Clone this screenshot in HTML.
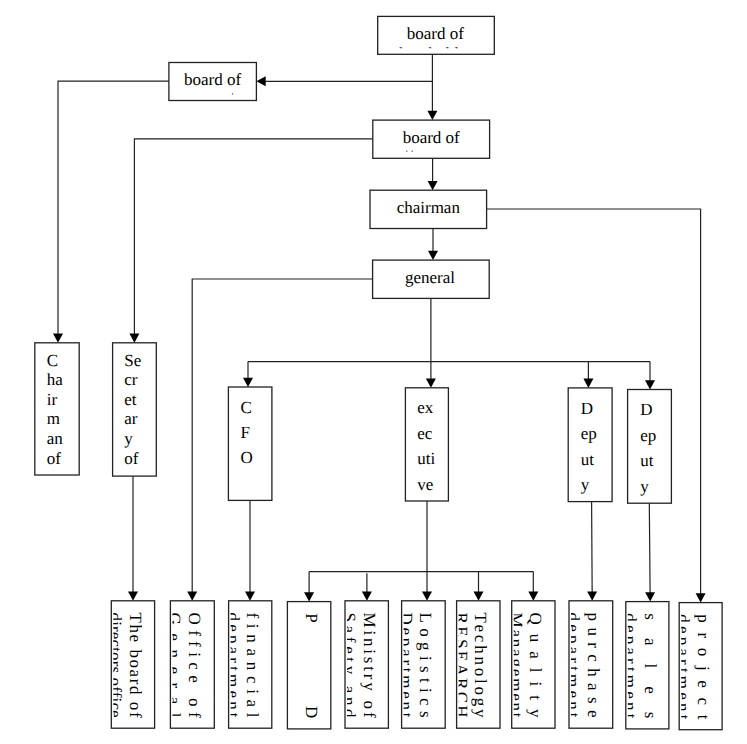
<!DOCTYPE html>
<html><head><meta charset="utf-8"><style>
html,body{margin:0;padding:0;background:#fff;width:747px;height:744px;overflow:hidden}
svg{display:block}
text{font-family:"Liberation Serif",serif;font-size:17px;fill:#000;text-rendering:geometricPrecision}
</style></head><body>
<svg width="747" height="744" viewBox="0 0 747 744">
<defs><clipPath id="cA"><rect x="377.70" y="16.40" width="116.60" height="31.90"/></clipPath>
<clipPath id="cb1"><rect x="113.30" y="600.80" width="41.30" height="127.40"/></clipPath>
<clipPath id="cb2"><rect x="172.40" y="600.80" width="41.90" height="127.40"/></clipPath>
<clipPath id="cb3"><rect x="230.60" y="600.80" width="41.20" height="127.40"/></clipPath>
<clipPath id="cb5"><rect x="347.00" y="600.80" width="41.40" height="127.40"/></clipPath>
<clipPath id="cb6"><rect x="403.60" y="600.80" width="41.60" height="127.40"/></clipPath>
<clipPath id="cb7"><rect x="458.60" y="600.80" width="41.40" height="127.40"/></clipPath>
<clipPath id="cb8"><rect x="513.70" y="600.80" width="41.30" height="127.40"/></clipPath>
<clipPath id="cb9"><rect x="571.00" y="600.80" width="41.70" height="127.40"/></clipPath>
<clipPath id="cb10"><rect x="627.80" y="601.60" width="41.10" height="127.30"/></clipPath>
<clipPath id="cb11"><rect x="681.20" y="602.60" width="40.90" height="127.10"/></clipPath></defs>
<polyline points="248.00,361.60 650.00,361.60" fill="none" stroke="#222" stroke-width="1.2"/>
<polyline points="309.10,571.60 533.30,571.60" fill="none" stroke="#222" stroke-width="1.2"/>
<polyline points="432.40,54.30 432.40,114.52" fill="none" stroke="#222" stroke-width="1.2"/>
<polygon points="432.40,120.10 427.40,110.80 437.40,110.80" fill="#000"/>
<polyline points="432.40,81.30 261.98,81.30" fill="none" stroke="#222" stroke-width="1.2"/>
<polygon points="256.40,81.30 265.70,76.30 265.70,86.30" fill="#000"/>
<polyline points="168.90,81.10 58.00,81.10 58.00,337.22" fill="none" stroke="#222" stroke-width="1.2"/>
<polygon points="58.00,342.80 53.00,333.50 63.00,333.50" fill="#000"/>
<polyline points="372.80,138.80 134.40,138.80 134.40,337.22" fill="none" stroke="#222" stroke-width="1.2"/>
<polygon points="134.40,342.80 129.40,333.50 139.40,333.50" fill="#000"/>
<polyline points="432.60,158.30 432.60,184.62" fill="none" stroke="#222" stroke-width="1.2"/>
<polygon points="432.60,190.20 427.60,180.90 437.60,180.90" fill="#000"/>
<polyline points="486.60,209.00 700.60,209.00 700.60,597.02" fill="none" stroke="#222" stroke-width="1.2"/>
<polygon points="700.60,602.60 695.60,593.30 705.60,593.30" fill="#000"/>
<polyline points="433.00,228.50 433.00,254.52" fill="none" stroke="#222" stroke-width="1.2"/>
<polygon points="433.00,260.10 428.00,250.80 438.00,250.80" fill="#000"/>
<polyline points="372.60,279.00 192.20,279.00 192.20,595.22" fill="none" stroke="#222" stroke-width="1.2"/>
<polygon points="192.20,600.80 187.20,591.50 197.20,591.50" fill="#000"/>
<polyline points="430.90,298.40 430.90,382.22" fill="none" stroke="#222" stroke-width="1.2"/>
<polygon points="430.90,387.80 425.90,378.50 435.90,378.50" fill="#000"/>
<polyline points="248.00,361.60 248.00,381.42" fill="none" stroke="#222" stroke-width="1.2"/>
<polygon points="248.00,387.00 243.00,377.70 253.00,377.70" fill="#000"/>
<polyline points="588.40,361.60 588.40,382.32" fill="none" stroke="#222" stroke-width="1.2"/>
<polygon points="588.40,387.90 583.40,378.60 593.40,378.60" fill="#000"/>
<polyline points="650.00,361.60 650.00,383.92" fill="none" stroke="#222" stroke-width="1.2"/>
<polygon points="650.00,389.50 645.00,380.20 655.00,380.20" fill="#000"/>
<polyline points="133.00,476.10 133.00,595.22" fill="none" stroke="#222" stroke-width="1.2"/>
<polygon points="133.00,600.80 128.00,591.50 138.00,591.50" fill="#000"/>
<polyline points="250.00,500.40 250.00,595.22" fill="none" stroke="#222" stroke-width="1.2"/>
<polygon points="250.00,600.80 245.00,591.50 255.00,591.50" fill="#000"/>
<polyline points="427.00,501.00 427.00,595.22" fill="none" stroke="#222" stroke-width="1.2"/>
<polygon points="427.00,600.80 422.00,591.50 432.00,591.50" fill="#000"/>
<polyline points="309.10,571.60 309.10,596.02" fill="none" stroke="#222" stroke-width="1.2"/>
<polygon points="309.10,601.60 304.10,592.30 314.10,592.30" fill="#000"/>
<polyline points="366.90,573.30 366.90,595.22" fill="none" stroke="#222" stroke-width="1.2"/>
<polygon points="366.90,600.80 361.90,591.50 371.90,591.50" fill="#000"/>
<polyline points="478.50,571.60 478.50,595.22" fill="none" stroke="#222" stroke-width="1.2"/>
<polygon points="478.50,600.80 473.50,591.50 483.50,591.50" fill="#000"/>
<polyline points="533.30,571.60 533.30,595.22" fill="none" stroke="#222" stroke-width="1.2"/>
<polygon points="533.30,600.80 528.30,591.50 538.30,591.50" fill="#000"/>
<polyline points="591.60,501.60 592.17,595.22" fill="none" stroke="#222" stroke-width="1.2"/>
<polygon points="592.20,600.80 587.14,591.53 597.14,591.47" fill="#000"/>
<polyline points="649.30,503.20 650.15,596.02" fill="none" stroke="#222" stroke-width="1.2"/>
<polygon points="650.20,601.60 645.12,592.35 655.11,592.25" fill="#000"/>
<rect x="377.70" y="16.40" width="116.60" height="37.90" fill="#fff" stroke="#222" stroke-width="1.3"/>
<rect x="168.90" y="62.50" width="87.50" height="38.00" fill="#fff" stroke="#222" stroke-width="1.3"/>
<rect x="372.80" y="120.10" width="116.80" height="38.20" fill="#fff" stroke="#222" stroke-width="1.3"/>
<rect x="370.00" y="190.20" width="116.60" height="38.30" fill="#fff" stroke="#222" stroke-width="1.3"/>
<rect x="372.60" y="260.10" width="116.60" height="38.30" fill="#fff" stroke="#222" stroke-width="1.3"/>
<rect x="34.80" y="342.80" width="44.40" height="132.20" fill="#fff" stroke="#222" stroke-width="1.3"/>
<rect x="112.60" y="342.80" width="43.70" height="133.30" fill="#fff" stroke="#222" stroke-width="1.3"/>
<rect x="228.40" y="387.00" width="43.50" height="113.40" fill="#fff" stroke="#222" stroke-width="1.3"/>
<rect x="405.40" y="387.80" width="43.00" height="113.20" fill="#fff" stroke="#222" stroke-width="1.3"/>
<rect x="568.20" y="387.90" width="43.90" height="113.70" fill="#fff" stroke="#222" stroke-width="1.3"/>
<rect x="627.60" y="389.50" width="43.80" height="113.70" fill="#fff" stroke="#222" stroke-width="1.3"/>
<rect x="111.30" y="600.80" width="43.30" height="127.40" fill="#fff" stroke="#222" stroke-width="1.3"/>
<rect x="170.40" y="600.80" width="43.90" height="127.40" fill="#fff" stroke="#222" stroke-width="1.3"/>
<rect x="228.60" y="600.80" width="43.20" height="127.40" fill="#fff" stroke="#222" stroke-width="1.3"/>
<rect x="287.40" y="601.60" width="43.40" height="127.30" fill="#fff" stroke="#222" stroke-width="1.3"/>
<rect x="345.00" y="600.80" width="43.40" height="127.40" fill="#fff" stroke="#222" stroke-width="1.3"/>
<rect x="401.60" y="600.80" width="43.60" height="127.40" fill="#fff" stroke="#222" stroke-width="1.3"/>
<rect x="456.60" y="600.80" width="43.40" height="127.40" fill="#fff" stroke="#222" stroke-width="1.3"/>
<rect x="511.70" y="600.80" width="43.30" height="127.40" fill="#fff" stroke="#222" stroke-width="1.3"/>
<rect x="569.00" y="600.80" width="43.70" height="127.40" fill="#fff" stroke="#222" stroke-width="1.3"/>
<rect x="625.80" y="601.60" width="43.10" height="127.30" fill="#fff" stroke="#222" stroke-width="1.3"/>
<rect x="679.20" y="602.60" width="42.90" height="127.10" fill="#fff" stroke="#222" stroke-width="1.3"/>
<text x="435.30" y="38.90" text-anchor="middle">board of</text>
<text x="435.30" y="59.30" text-anchor="middle" clip-path="url(#cA)">shareholders</text>
<text x="212.65" y="85.00" text-anchor="middle">board of</text>
<rect x="231.9" y="93.3" width="1.2" height="1.2" fill="#444"/>
<text x="431.20" y="142.90" text-anchor="middle">board of</text>
<rect x="406.2" y="150.6" width="1.2" height="1.2" fill="#444"/>
<rect x="411.6" y="150.6" width="1.2" height="1.2" fill="#444"/>
<text x="428.30" y="212.70" text-anchor="middle">chairman</text>
<text x="429.90" y="282.70" text-anchor="middle">general</text>
<text x="46.70" y="365.60">C</text>
<text x="46.70" y="385.20">ha</text>
<text x="46.70" y="404.80">ir</text>
<text x="46.70" y="424.40">m</text>
<text x="46.70" y="444.10">an</text>
<text x="46.70" y="464.00">of</text>
<text x="124.30" y="365.60">Se</text>
<text x="124.30" y="385.20">cr</text>
<text x="124.30" y="404.80">et</text>
<text x="124.30" y="424.40">ar</text>
<text x="124.30" y="444.10">y</text>
<text x="124.30" y="464.00">of</text>
<text x="240.50" y="412.80">C</text>
<text x="240.50" y="437.90">F</text>
<text x="240.50" y="463.00">O</text>
<text x="417.30" y="413.30">ex</text>
<text x="417.30" y="438.70">ec</text>
<text x="417.30" y="464.10">uti</text>
<text x="417.30" y="489.50">ve</text>
<text x="580.80" y="413.90">D</text>
<text x="580.80" y="439.40">ep</text>
<text x="580.80" y="464.90">ut</text>
<text x="580.80" y="490.40">y</text>
<text x="640.20" y="415.30">D</text>
<text x="640.20" y="440.80">ep</text>
<text x="640.20" y="466.30">ut</text>
<text x="640.20" y="491.80">y</text>
<text transform="translate(130.00,612.50) rotate(90)" textLength="105.10" lengthAdjust="spacing">The board of</text>
<g clip-path="url(#cb1)"><text transform="translate(110.20,612.50) rotate(90)" textLength="105.10" lengthAdjust="spacing" style="font-size:17px">directors office</text></g>
<text transform="translate(189.10,612.50) rotate(90)" textLength="105.10" lengthAdjust="spacing">Office of</text>
<g clip-path="url(#cb2)"><text transform="translate(169.30,612.50) rotate(90)" textLength="105.10" lengthAdjust="spacing" style="font-size:17px">General</text></g>
<text transform="translate(247.30,612.50) rotate(90)" textLength="105.10" lengthAdjust="spacing">financial</text>
<g clip-path="url(#cb3)"><text transform="translate(227.50,612.50) rotate(90)" textLength="105.10" lengthAdjust="spacing" style="font-size:17px">department</text></g>
<text transform="translate(306.10,613.30) rotate(90)" textLength="105.10" lengthAdjust="spacing">P D</text>
<text transform="translate(363.70,612.50) rotate(90)" textLength="105.10" lengthAdjust="spacing">Ministry of</text>
<g clip-path="url(#cb5)"><text transform="translate(343.90,612.50) rotate(90)" textLength="105.10" lengthAdjust="spacing" style="font-size:17px">Safety and</text></g>
<text transform="translate(420.30,612.50) rotate(90)" textLength="105.10" lengthAdjust="spacing">Logistics</text>
<g clip-path="url(#cb6)"><text transform="translate(400.50,612.50) rotate(90)" textLength="105.10" lengthAdjust="spacing" style="font-size:17px">Department</text></g>
<text transform="translate(475.30,612.50) rotate(90)" textLength="105.10" lengthAdjust="spacing">Technology</text>
<g clip-path="url(#cb7)"><text transform="translate(455.50,612.50) rotate(90)" textLength="105.10" lengthAdjust="spacing" style="font-size:17px">RESEARCH</text></g>
<text transform="translate(530.40,612.50) rotate(90)" textLength="105.10" lengthAdjust="spacing">Quality</text>
<g clip-path="url(#cb8)"><text transform="translate(510.60,612.50) rotate(90)" textLength="105.10" lengthAdjust="spacing" style="font-size:17px">Management</text></g>
<text transform="translate(587.70,612.50) rotate(90)" textLength="105.10" lengthAdjust="spacing">purchase</text>
<g clip-path="url(#cb9)"><text transform="translate(567.90,612.50) rotate(90)" textLength="105.10" lengthAdjust="spacing" style="font-size:17px">department</text></g>
<text transform="translate(644.50,613.30) rotate(90)" textLength="105.10" lengthAdjust="spacing">sales</text>
<g clip-path="url(#cb10)"><text transform="translate(624.70,613.30) rotate(90)" textLength="105.10" lengthAdjust="spacing" style="font-size:17px">department</text></g>
<text transform="translate(697.90,614.30) rotate(90)" textLength="105.10" lengthAdjust="spacing">project</text>
<g clip-path="url(#cb11)"><text transform="translate(678.10,614.30) rotate(90)" textLength="105.10" lengthAdjust="spacing" style="font-size:17px">department</text></g>
</svg>
</body></html>
